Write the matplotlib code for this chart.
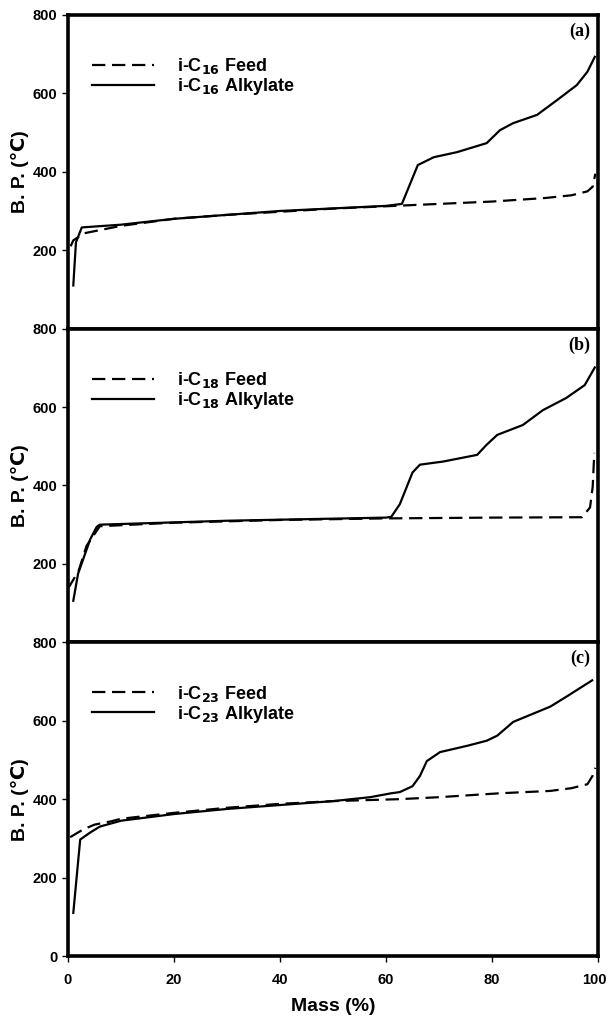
import matplotlib
matplotlib.use('Agg')
from matplotlib import pyplot as plt
from matplotlib.transforms import ScaledTranslation

# Font settings.
plt.rcParams['font.family'] = ['Liberation Sans', 'DejaVu Sans']
plt.rcParams['font.weight'] = 'bold'

#---- Data ----#
# Panel (a): i-C16.
feed_a_x = [0.5, 1, 3, 10, 20, 30, 40, 50, 60, 70, 80, 90, 95, 98, 99, 99.5]
feed_a_y = [210, 225, 243, 262, 280, 290, 298, 306, 312, 318, 324, 333, 340, 350, 362, 395]
alk_a_x = [1, 1.5, 2.6, 10, 20, 40, 60, 63, 66, 69, 73.4, 79, 81.5, 84, 88.5, 92.3, 96, 98, 99.4]
alk_a_y = [110, 220, 258, 265, 280, 300, 313, 318, 417, 437, 450, 473, 506, 524, 545, 583, 621, 655, 693]

# Panel (b): i-C18.
feed_b_x = [0, 2, 3.5, 6, 20, 40, 60, 80, 97, 98.5, 99, 99.3]
feed_b_y = [137, 182, 246, 296, 305, 312, 316, 318, 319, 344, 397, 483]
alk_b_x = [1, 1.9, 4.2, 5.4, 6, 30, 60, 61, 62.6, 65, 66.4, 70.8, 77.2, 79, 81, 85.8, 89.6, 94, 97.5, 99.4]
alk_b_y = [106, 175, 263, 294, 300, 310, 318, 320, 352, 433, 453, 461, 478, 504, 529, 554, 592, 623, 656, 701]

# Panel (c): i-C23.
feed_c_x = [0.4, 2.9, 5, 8, 10, 20, 30, 40, 50, 62.6, 70, 81.5, 91, 95, 98, 99, 99.5]
feed_c_y = [303, 323, 335, 343, 350, 365, 378, 388, 395, 400, 405, 415, 421, 428, 438, 460, 480]
alk_c_x = [1, 2.3, 4.2, 6, 10, 20, 30, 40, 50, 57, 61, 62.6, 65, 66.4, 67.7, 70.2, 75.3, 79, 81, 84, 91, 94, 98.9]
alk_c_y = [110, 297, 315, 330, 345, 362, 375, 385, 395, 405, 415, 418, 433, 459, 497, 520, 536, 549, 562, 597, 636, 661, 703]

x_ticks = [0, 20, 40, 60, 80, 100]

panels = [
  ('(a)', '16', feed_a_x, feed_a_y, alk_a_x, alk_a_y, [200, 400, 600, 800]),
  ('(b)', '18', feed_b_x, feed_b_y, alk_b_x, alk_b_y, [200, 400, 600, 800]),
  ('(c)', '23', feed_c_x, feed_c_y, alk_c_x, alk_c_y, [0, 200, 400, 600, 800]),
]

#---- Generate plot ----#
fig = plt.figure(figsize=(6.08, 10.19), dpi=100)
left, width = 68/608, 530/608
bottom0, ph = 1-956/1019, 313.7/1019
for i, (tag, cn, fx, fy, ax_x, ax_y, yt) in enumerate(panels):
  ax = fig.add_axes([left, bottom0+(2-i)*ph, width, ph])
  ax.plot(fx, fy, color='black', linestyle=(0, (6, 3)), linewidth=1.6,
          label='i-C$_{\\mathbf{%s}}$ Feed' % cn)
  ax.plot(ax_x, ax_y, color='black', linestyle='-', linewidth=1.6,
          label='i-C$_{\\mathbf{%s}}$ Alkylate' % cn)
  ax.set_xlim(0, 100)
  ax.set_ylim(0, 800)
  ax.set_yticks(yt)
  ax.set_yticklabels([str(v) for v in yt], fontsize=10.5, fontweight='bold')
  ax.set_ylabel('B. P. (℃)', fontsize=14, fontweight='bold', labelpad=3)
  for sp in ax.spines.values():
    sp.set_linewidth(2.6)
  ax.tick_params(axis='y', direction='out', length=4, width=1)
  if i < 2:
    ax.tick_params(axis='x', bottom=False, labelbottom=False)
  else:
    ax.set_xticks(x_ticks)
    ax.set_xticklabels([str(v) for v in x_ticks], fontsize=10.5, fontweight='bold')
    ax.tick_params(axis='x', direction='out', length=4, width=1, pad=8)
    ax.set_xlabel('Mass (%)', fontsize=14, fontweight='bold', labelpad=8)
    # Nudge last tick label so it stays inside the figure.
    lab = ax.get_xticklabels()[-1]
    lab.set_transform(lab.get_transform()+ScaledTranslation(-4/100, 0, fig.dpi_scale_trans))
  leg = ax.legend(loc='upper left', bbox_to_anchor=(0.015, 0.92), frameon=False,
                  fontsize=13, handlelength=3.4, handletextpad=1.3, labelspacing=0.0)
  for t in leg.get_texts():
    t.set_fontweight('bold')
  ax.text(0.985, 0.975, tag, transform=ax.transAxes, ha='right', va='top',
          fontsize=13, fontweight='bold', family='Liberation Serif')

fig.savefig('out.png', dpi=100)
plt.close(fig)
